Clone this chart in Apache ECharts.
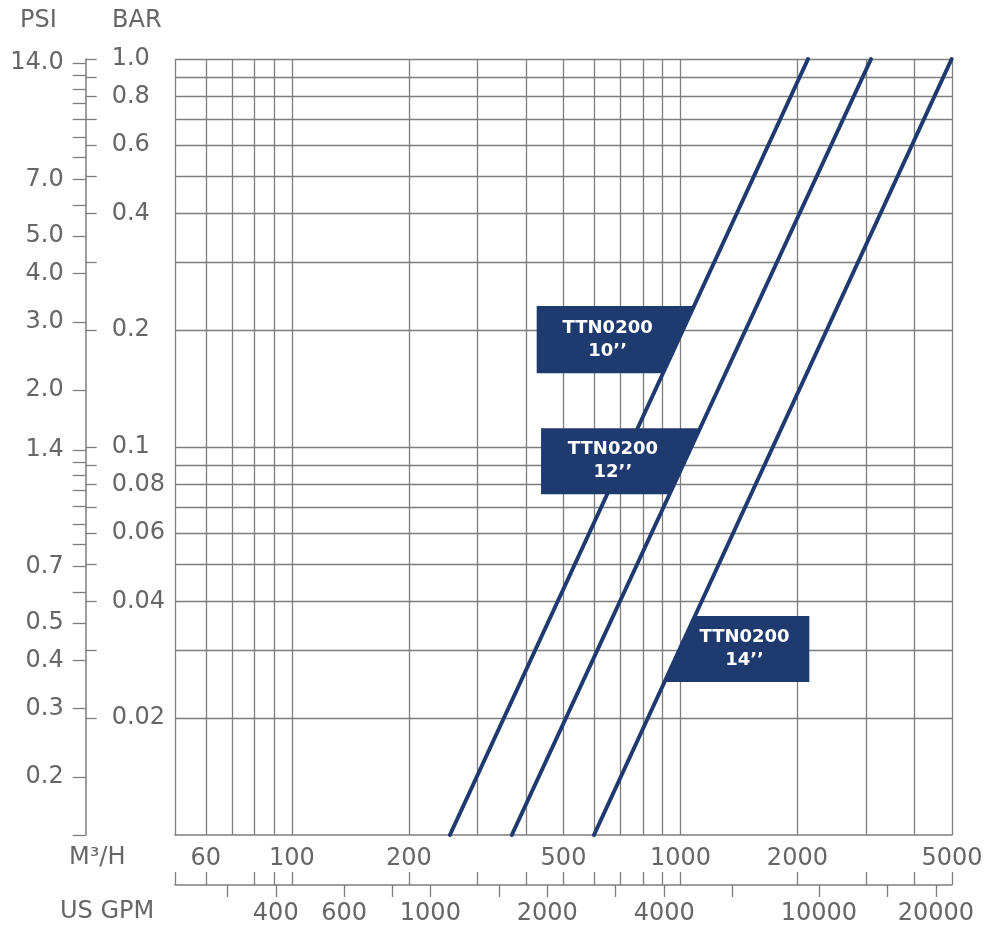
<!DOCTYPE html>
<html>
<head>
<meta charset="utf-8">
<script src="https://cdn.jsdelivr.net/npm/echarts@6/dist/echarts.min.js"></script>
<style>
  html, body { margin: 0; padding: 0; background: #ffffff; }
  #chart { width: 1000px; height: 938px; }
</style>
</head>
<body>
<div id="chart"></div>
<script>
// ---------- data ----------
const flowGridValues = [50, 60, 70, 80, 90, 100, 200, 300, 400, 500, 600, 700, 800, 900, 1000, 2000, 3000, 4000, 5000];
const flowTickValues = [50, 60, 80, 90, 100, 200, 300, 400, 500, 600, 700, 800, 900, 1000, 2000, 3000, 4000, 5000];
const flowLabelValues = [60, 100, 200, 500, 1000, 2000, 5000];
const gpmTickValues = [300, 400, 600, 800, 1000, 1500, 2000, 3000, 4000, 6000, 10000, 15000, 20000];
const gpmLabelValues = [400, 600, 1000, 2000, 4000, 10000, 20000];
const barGridValues = [1.0, 0.9, 0.8, 0.7, 0.6, 0.5, 0.4, 0.3, 0.2, 0.1, 0.09, 0.08, 0.07, 0.06, 0.05, 0.04, 0.03, 0.02];
const barTickLabels = ['1.0', '0.8', '0.6', '0.4', '0.2', '0.1', '0.08', '0.06', '0.04', '0.02'];
const psiTickValues = [14, 13, 12, 11, 10, 9, 8, 7, 6, 5, 4, 3, 2, 1.4, 1.3, 1.2, 1.1, 1.0, 0.9, 0.8, 0.7, 0.6, 0.5, 0.4, 0.3, 0.2, 0.14145];
const psiTickLabels = ['14.0', '7.0', '5.0', '4.0', '3.0', '2.0', '1.4', '0.7', '0.5', '0.4', '0.3', '0.2'];

const flowRange = [50, 5000];        // M3/H
const barRange = [0.01, 1.0];        // BAR
const psiRange = [0.1414, 14.34];    // PSI (as drawn)
const GPM_PER_M3H = 4.4029;

const lineNames = ['TTN0200 10’’', 'TTN0200 12’’', 'TTN0200 14’’'];
const lineBar = [0.01, 1.0];
const line10Flow = [255, 2130];
const line12Flow = [368, 3094];
const line14Flow = [599, 4990];

const boxLabels = ['TTN0200\n10’’', 'TTN0200\n12’’', 'TTN0200\n14’’'];
const boxFreeEdgeFlow = [426.6, 437.7, 2146];
const boxTopBar = [0.231, 0.1117, 0.0367];
const boxBottomBar = [0.155, 0.0756, 0.0248];

// ---------- helpers ----------
const lineFlows = [line10Flow, line12Flow, line14Flow];
const NAVY = '#1f3a6f';
const GRID_GRAY = '#7d7d7d';
const TEXT_GRAY = '#666666';
const FONT = "'DejaVu Sans', 'Noto Sans', sans-serif";

function flowOnLine(i, bar) {
  const f = lineFlows[i];
  const t = (Math.log10(bar) - Math.log10(lineBar[0])) / (Math.log10(lineBar[1]) - Math.log10(lineBar[0]));
  return Math.pow(10, Math.log10(f[0]) + t * (Math.log10(f[1]) - Math.log10(f[0])));
}
function closestLabel(labels, v) {
  let best = labels[0], bd = Infinity;
  labels.forEach(function (s) {
    const d = Math.abs(Math.log(parseFloat(s)) - Math.log(v));
    if (d < bd) { bd = d; best = s; }
  });
  return best;
}

const barLabelValues = barTickLabels.map(parseFloat);
const psiLabelValues = psiTickLabels.map(parseFloat);

const labelStyle = { fontFamily: FONT, fontSize: 24, color: TEXT_GRAY };

const chart = echarts.init(document.getElementById('chart'), null, { renderer: 'canvas' });

const lineSeries = lineFlows.map(function (f, i) {
  return {
    name: lineNames[i],
    type: 'line',
    xAxisIndex: 0,
    yAxisIndex: 0,
    data: [[f[0], lineBar[0]], [f[1], lineBar[1]]],
    symbol: 'none',
    clip: false,
    silent: true,
    z: 3,
    lineStyle: { color: NAVY, width: 4, cap: 'round' }
  };
});

const boxSeries = {
  type: 'custom',
  xAxisIndex: 0,
  yAxisIndex: 0,
  clip: false,
  silent: true,
  z: 5,
  encode: { x: 0, y: [1, 2] },
  data: boxLabels.map(function (t, i) {
    return [boxFreeEdgeFlow[i], boxTopBar[i], boxBottomBar[i]];
  }),
  renderItem: function (params, api) {
    const i = params.dataIndex;
    const free = api.value(0), top = api.value(1), bottom = api.value(2);
    const a = api.coord([free, top]);
    const b = api.coord([free, bottom]);
    const c = api.coord([flowOnLine(i, top), top]);
    const d = api.coord([flowOnLine(i, bottom), bottom]);
    const cx = (a[0] + b[0]) / 4 + (c[0] + d[0]) / 4;
    const cy = (a[1] + b[1]) / 2;
    return {
      type: 'group',
      children: [
        { type: 'polygon', shape: { points: [a, c, d, b] }, style: { fill: NAVY } },
        {
          type: 'text', x: cx, y: cy,
          style: {
            text: boxLabels[i], fill: '#ffffff',
            font: "bold 18px 'DejaVu Sans', sans-serif",
            align: 'center', verticalAlign: 'middle', lineHeight: 23
          }
        }
      ]
    };
  }
};

const option = {
  animation: false,
  backgroundColor: '#ffffff',
  grid: { left: 175, top: 59, width: 777, height: 776, containLabel: false },
  xAxis: [
    {
      type: 'log', min: flowRange[0], max: flowRange[1], position: 'bottom',
      axisLine: { show: true, lineStyle: { color: GRID_GRAY, width: 1.5 } },
      axisTick: { show: false, customValues: flowGridValues },
      axisLabel: Object.assign({
        customValues: flowLabelValues, margin: 12,
        formatter: function (v) { return String(Math.round(v)); }
      }, labelStyle),
      splitLine: { show: true, showMinLine: true, showMaxLine: true, lineStyle: { color: GRID_GRAY, width: 1.3 } }
    },
    {
      type: 'log', min: flowRange[0], max: flowRange[1], position: 'bottom', offset: 50,
      axisLine: { show: true, lineStyle: { color: GRID_GRAY, width: 1.5 } },
      axisTick: { show: true, inside: true, length: 13, customValues: flowTickValues, lineStyle: { color: GRID_GRAY, width: 1.3 } },
      axisLabel: { show: false },
      splitLine: { show: false }
    },
    {
      type: 'log', min: flowRange[0] * GPM_PER_M3H, max: flowRange[1] * GPM_PER_M3H, position: 'bottom', offset: 50,
      axisLine: { show: false },
      axisTick: { show: true, inside: false, length: 12, customValues: gpmTickValues, lineStyle: { color: GRID_GRAY, width: 1.3 } },
      axisLabel: Object.assign({
        customValues: gpmLabelValues, margin: 17,
        formatter: function (v) { return String(Math.round(v)); }
      }, labelStyle),
      splitLine: { show: false }
    }
  ],
  yAxis: [
    {
      type: 'log', min: barRange[0], max: barRange[1], position: 'left', offset: 89.3,
      axisLine: { show: true, lineStyle: { color: GRID_GRAY, width: 1.5 } },
      axisTick: { show: true, inside: true, length: 11, customValues: barGridValues, lineStyle: { color: GRID_GRAY, width: 1.3 } },
      axisLabel: Object.assign({
        inside: true, margin: 26, customValues: barLabelValues,
        formatter: function (v) { return closestLabel(barTickLabels, v); }
      }, labelStyle),
      splitLine: { show: true, showMinLine: true, showMaxLine: true, lineStyle: { color: GRID_GRAY, width: 1.3 } }
    },
    {
      type: 'log', min: psiRange[0], max: psiRange[1], position: 'left', offset: 89.3,
      axisLine: { show: false },
      axisTick: { show: true, inside: false, length: 13, customValues: psiTickValues, lineStyle: { color: GRID_GRAY, width: 1.3 } },
      axisLabel: Object.assign({
        margin: 22, customValues: psiLabelValues,
        formatter: function (v) { return closestLabel(psiTickLabels, v); }
      }, labelStyle),
      splitLine: { show: false }
    }
  ],
  graphic: [
    { type: 'text', left: 20, top: 9, style: { text: 'PSI', font: "24px 'DejaVu Sans', sans-serif", fill: TEXT_GRAY } },
    { type: 'text', left: 112, top: 9, style: { text: 'BAR', font: "24px 'DejaVu Sans', sans-serif", fill: TEXT_GRAY } },
    { type: 'text', left: 69, top: 846, style: { text: 'M³/H', font: "24px 'DejaVu Sans', sans-serif", fill: TEXT_GRAY } },
    { type: 'text', left: 60, top: 900, style: { text: 'US GPM', font: "24px 'DejaVu Sans', sans-serif", fill: TEXT_GRAY } }
  ],
  series: lineSeries.concat([boxSeries])
};

chart.setOption(option);
</script>
</body>
</html>
